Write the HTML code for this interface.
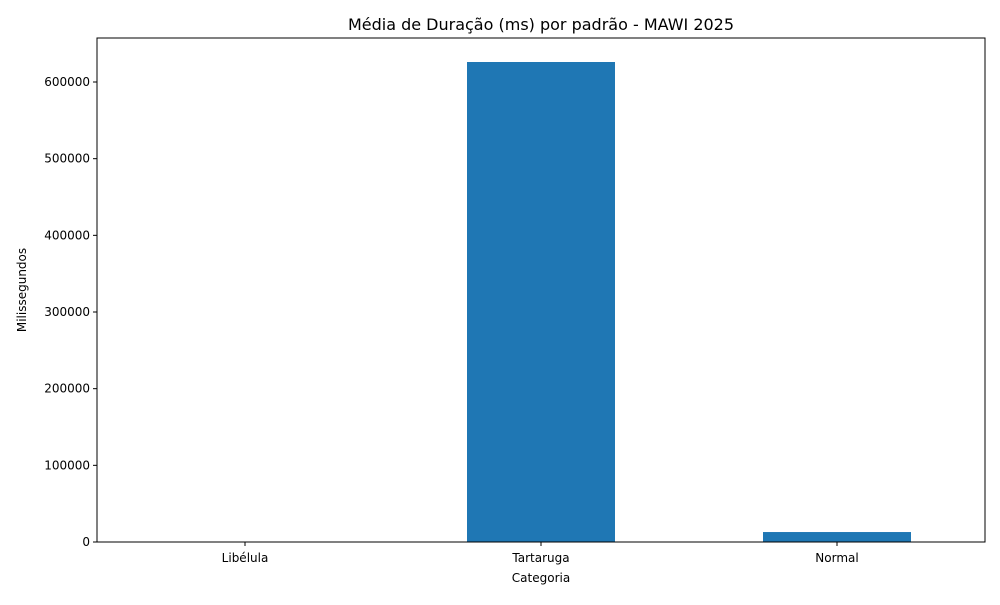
<!DOCTYPE html>
<html><head><meta charset="utf-8"><style>
body{margin:0;background:#fff;font-family:"Liberation Sans","DejaVu Sans",sans-serif}
svg text{font-family:"DejaVu Sans","Liberation Sans",sans-serif;fill:#000}
</style></head><body>
<svg id="chart" width="1000" height="600">
<rect width="1000" height="600" fill="#fff"/>
<text x="541" y="30" font-size="16" text-anchor="middle">Média de Duração (ms) por padrão - MAWI 2025</text>
<g id="bars"></g>
<g id="axes"></g>
<text x="541" y="582" font-size="12" text-anchor="middle">Categoria</text>
<text transform="translate(26,290) rotate(-90)" font-size="12" text-anchor="middle">Milissegundos</text>
</svg>
<script>
const categories = ["Libélula","Tartaruga","Normal"];
const values = [50, 626100, 13000];
const yTicks = [0,100000,200000,300000,400000,500000,600000];
const NS="http://www.w3.org/2000/svg";
const L=97,R=985,T=38,B=542;
const yMax=Math.max(...values)*1.05;
const y=v=>B-(v/yMax)*(B-T);
const step=(R-L)/categories.length;
const x=i=>L+step*(i+0.5);
const bars=document.getElementById('bars'),axes=document.getElementById('axes');
function mk(tag,attrs,parent){const e=document.createElementNS(NS,tag);for(const k in attrs)e.setAttribute(k,attrs[k]);parent.appendChild(e);return e;}
categories.forEach((c,i)=>{
  const r=mk('rect',{x:x(i)-step*0.25,y:y(values[i]),width:step*0.5,height:B-y(values[i]),fill:'#1f77b4'},bars);
  
  
  const t=mk('line',{x1:x(i),x2:x(i),y1:B,y2:B+4,stroke:'#000'},axes);
  
  
  const lb=mk('text',{x:x(i),y:B+20,'font-size':12,'text-anchor':'middle'},axes);
  lb.textContent=c;
  
  
});
yTicks.forEach(v=>{
  const t=mk('line',{x1:L-4,x2:L,y1:y(v),y2:y(v),stroke:'#000'},axes);
  
  
  const lb=mk('text',{x:L-7,y:y(v)+4,'font-size':12,'text-anchor':'end'},axes);
  lb.textContent=v;
  
  
});
const f=mk('rect',{x:L,y:T,width:R-L,height:B-T,fill:'none',stroke:'#000','stroke-width':1},axes);


</script>
</body></html>
